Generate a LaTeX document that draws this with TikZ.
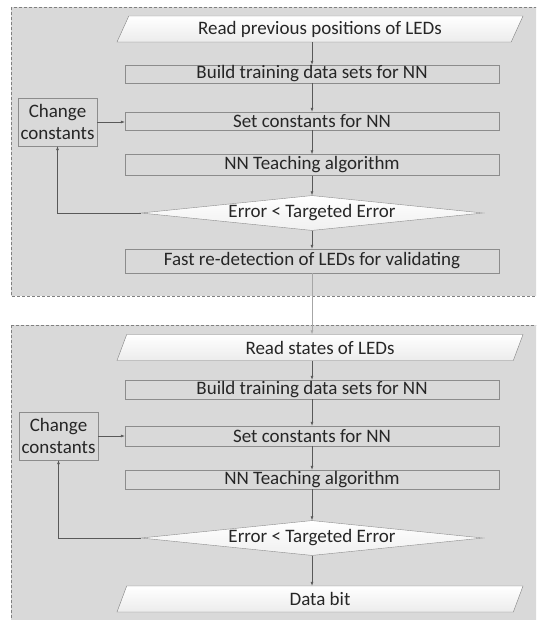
\documentclass[tikz,border=0pt]{standalone}
\usepackage{fontspec}
\setmainfont{Carlito}
\usetikzlibrary{shapes.geometric,arrows.meta}
\definecolor{panelgray}{HTML}{D9D9D9}
\definecolor{linegray}{HTML}{8C8C8C}
\definecolor{arrowgray}{HTML}{595959}
\begin{document}
\begin{tikzpicture}[x=1pt,y=-1pt,
>={Latex[length=4pt,width=3pt]},
every node/.style={font=\fontsize{19}{22}\selectfont, text=black!85},
box/.style={draw=linegray, fill=panelgray, rectangle, minimum width=374pt, inner sep=0pt},
io/.style={draw=gray, top color=white, bottom color=gray!15, trapezium, trapezium left angle=54, trapezium right angle=126, trapezium stretches body, minimum width=406pt, minimum height=26pt, inner sep=0pt},
test/.style={draw=linegray, top color=white, bottom color=gray!12, diamond, aspect=9, minimum width=342pt, minimum height=35pt, inner sep=0pt},
chg/.style={draw=linegray, fill=panelgray, rectangle, align=center, minimum width=79pt, minimum height=48pt, inner sep=0pt},
panel/.style={draw=gray, dash pattern=on 3pt off 2pt, fill=panelgray},
flow/.style={->, draw=arrowgray, line width=0.6pt}
]
\useasboundingbox (0,0) rectangle (536,620);
\clip (0,0) rectangle (536,620);

% panels
\draw[panel] (11,7) rectangle (545,296);
\draw[panel] (11,325) rectangle (545,630);

% upper panel: LED positions
\node[io] (rd1) at (320,29) {Read previous positions of LEDs};
\node[box, minimum height=18pt] (bd1) at (312,74) {Build training data sets for NN};
\node[box, minimum height=18pt] (set1) at (312,121) {Set constants for NN};
\node[box, minimum height=21pt] (nn1) at (312,165) {NN Teaching algorithm};
\node[test] (err1) at (312,213) {Error < Targeted Error};
\node[box, minimum height=24pt] (fast1) at (312,261) {Fast re-detection of LEDs for validating};
\node[chg] (chg1) at (57.5,122) {Change\\constants};

% lower panel: LED states
\node[io] (rd2) at (320,347.5) {Read states of LEDs};
\node[box, minimum height=19pt] (bd2) at (312,389.5) {Build training data sets for NN};
\node[box, minimum height=20pt] (set2) at (312,436) {Set constants for NN};
\node[box, minimum height=19pt] (nn2) at (312,479.5) {NN Teaching algorithm};
\node[test] (err2) at (312,538) {Error < Targeted Error};
\node[io] (out2) at (320,599) {Data bit};
\node[chg] (chg2) at (58.5,436) {Change\\constants};

\draw[flow] (bd1.north |- rd1.south) -- (bd1);
\draw[flow] (bd1) -- (set1);
\draw[flow] (set1) -- (nn1);
\draw[flow] (nn1) -- (err1);
\draw[flow] (err1) -- (fast1);
\draw[flow] (err1.west) -| (chg1.south);
\draw[flow] (chg1.east) -- (chg1.east -| set1.west);

\draw[flow, draw=gray!70] (fast1) -- (fast1.south |- rd2.north);

\draw[flow] (bd2.north |- rd2.south) -- (bd2);
\draw[flow] (bd2) -- (set2);
\draw[flow] (set2) -- (nn2);
\draw[flow] (nn2) -- (err2);
\draw[flow] (err2) -- (err2.south |- out2.north);
\draw[flow] (err2.west) -| (chg2.south);
\draw[flow] (chg2.east) -- (chg2.east -| set2.west);
\end{tikzpicture}
\end{document}
